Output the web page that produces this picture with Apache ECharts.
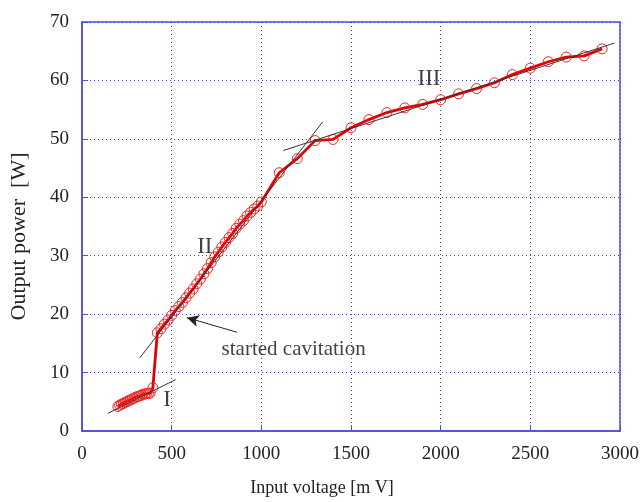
<!DOCTYPE html>
<html>
<head>
<meta charset="utf-8">
<script src="https://cdn.jsdelivr.net/npm/echarts@6/dist/echarts.min.js"></script>
<style>
  html, body { margin: 0; padding: 0; background: #fff; }
  #chart { width: 642px; height: 502px; }
</style>
</head>
<body>
<div id="chart"></div>
<script>
// measured points [mV, W]
const lowRegion = [
  [200, 4.2], [210, 4.4], [220, 4.6], [230, 4.7], [240, 4.9], [250, 5.0],
  [260, 5.2], [270, 5.3], [280, 5.5], [290, 5.6], [300, 5.8], [310, 5.9],
  [320, 6.0], [330, 6.1], [340, 6.3], [350, 6.3], [360, 6.4], [370, 6.4],
  [380, 6.5], [395, 7.4]
]
const midRegion = [
  [420, 16.8], [440, 17.5], [460, 18.3], [480, 19.0], [500, 19.8], [520, 20.6],
  [540, 21.3], [560, 22.0], [580, 22.8], [600, 23.6], [620, 24.3], [640, 25.2],
  [660, 26.0], [680, 26.9], [700, 27.8], [720, 28.8], [740, 29.8], [760, 30.6],
  [780, 31.5], [800, 32.3], [820, 33.1], [840, 33.8], [860, 34.7], [880, 35.4],
  [900, 36.0], [920, 36.8], [940, 37.4], [960, 38.0], [980, 38.5], [1000, 39.2]
]
const highRegion = [
  [1100, 44.2], [1200, 46.6], [1300, 49.7], [1400, 49.9], [1500, 51.9],
  [1600, 53.3], [1700, 54.5], [1800, 55.3], [1900, 55.9], [2000, 56.7],
  [2100, 57.7], [2200, 58.6], [2300, 59.6], [2400, 61.0], [2500, 62.1],
  [2600, 63.2], [2700, 64.0], [2800, 64.2], [2900, 65.4]
]
// fitted straight lines (end points)
const fitI = [[143, 3.0], [522, 8.8]]
const fitII = [[322, 12.5], [1342, 52.9]]
const fitIII = [[1122, 48.0], [2969, 66.4]]
// text annotations [mV, W, text]
const regionNotes = [
  [474, 5.3, 'I'],
  [685, 31.5, 'II'],
  [1935, 60.2, 'III']
]
const cavitationNote = [[1180, 14.0, 'started cavitation']]
const arrowFrom = [864, 16.9]
const arrowTo = [585, 19.4]

const allPoints = lowRegion.concat(midRegion, highRegion)

const serif = '"Liberation Serif", "DejaVu Serif", serif'
const blue = '#4f4fdc'
const chart = echarts.init(document.getElementById('chart'))

const fitSeries = (data) => ({
  type: 'line',
  data: data,
  symbol: 'none',
  silent: true,
  z: 5,
  lineStyle: { color: '#333', width: 1 }
})

const textSeries = (data, size) => ({
  type: 'scatter',
  data: data,
  symbolSize: 0,
  silent: true,
  z: 6,
  label: {
    show: true,
    position: 'inside',
    formatter: (p) => p.value[2],
    fontFamily: serif,
    fontSize: size,
    color: '#111'
  }
})

const option = {
  animation: false,
  grid: {
    left: 80, right: 19, top: 22, bottom: 67,
    show: true, borderColor: blue, borderWidth: 1.5
  },
  xAxis: {
    type: 'value',
    min: 0, max: 3000, interval: 500,
    name: 'Input voltage [m V]',
    nameLocation: 'middle',
    nameGap: 48,
    nameTextStyle: { fontFamily: serif, fontSize: 18, color: '#222', padding: [0, 58, 0, 0] },
    axisLine: { show: true, lineStyle: { color: blue, width: 1.5 } },
    axisTick: { show: true, inside: true, length: 6, lineStyle: { color: blue } },
    axisLabel: { fontFamily: serif, fontSize: 19, color: '#222', margin: 14, formatter: (v) => String(v) },
    splitLine: { show: true, lineStyle: { color: '#3c3cd0', width: 1, type: [1, 3] } }
  },
  yAxis: {
    type: 'value',
    min: 0, max: 70, interval: 10,
    name: 'Output power  [W]',
    nameLocation: 'middle',
    nameGap: 52,
    nameTextStyle: { fontFamily: serif, fontSize: 22, color: '#222', padding: [0, 20, 0, 0] },
    axisLine: { show: true, lineStyle: { color: blue, width: 1.5 } },
    axisTick: { show: true, inside: true, length: 6, lineStyle: { color: blue } },
    axisLabel: { fontFamily: serif, fontSize: 19, color: '#222', margin: 13 },
    splitLine: { show: true, lineStyle: { color: '#3c3cd0', width: 1, type: [1, 3] } }
  },
  series: [
    {
      type: 'line',
      data: allPoints,
      symbol: 'circle',
      symbolSize: 10,
      showAllSymbol: true,
      z: 3,
      lineStyle: { color: '#e00000', width: 2.8 },
      itemStyle: { color: 'rgba(0,0,0,0)', borderColor: '#e22', borderWidth: 1 }
    },
    fitSeries(fitI),
    fitSeries(fitII),
    fitSeries(fitIII),
    textSeries(regionNotes, 23),
    Object.assign(textSeries(cavitationNote, 21), {
      markLine: {
        silent: true,
        symbol: ['none', 'arrow'],
        symbolSize: [9, 12],
        label: { show: false },
        lineStyle: { color: '#222', width: 1, type: 'solid' },
        data: [[{ coord: arrowFrom }, { coord: arrowTo }]]
      }
    })
  ]
}
chart.setOption(option)
</script>
</body>
</html>
